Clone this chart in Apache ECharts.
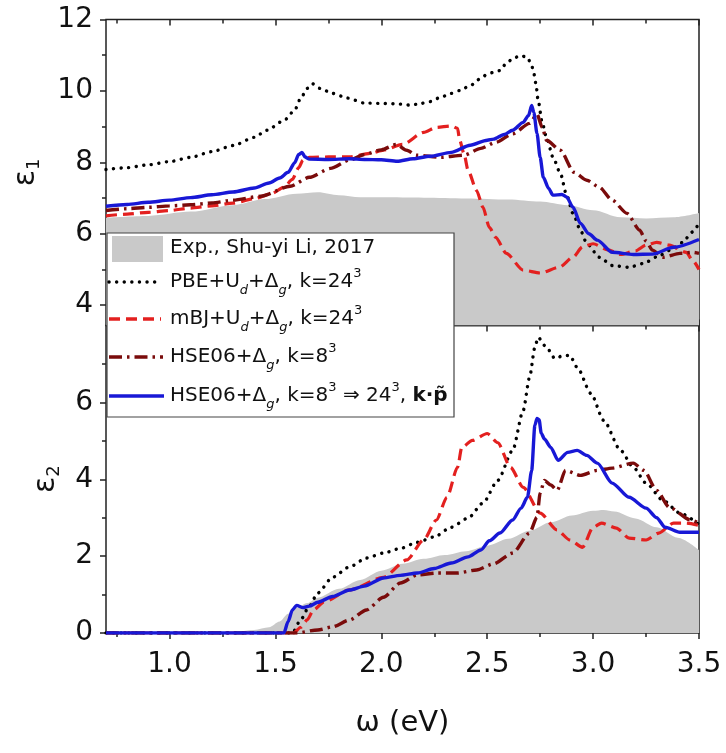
<!DOCTYPE html>
<html>
<head>
<meta charset="utf-8">
<script src="https://cdn.jsdelivr.net/npm/echarts@6/dist/echarts.min.js"></script>
<style>
  html, body { margin: 0; padding: 0; background: #fff; }
  #chart { width: 726px; height: 753px; }
</style>
</head>
<body>
<div id="chart"></div>
<script>
// Tick positions (photon energy in eV, dielectric function components)
const omegaTicks = [1.0, 1.5, 2.0, 2.5, 3.0, 3.5];
const omegaMinorTicks = [0.75, 1.25, 1.75, 2.25, 2.75, 3.25];
const eps1Ticks = [4, 6, 8, 10, 12];
const eps1MinorTicks = [5, 7, 9, 11];
const eps2Ticks = [0, 2, 4, 6];
const eps2MinorTicks = [1, 3, 5, 7];

// Real part ε1 : [ω (eV), ε1]
const expE1 = [[0.7,6.45],[0.9,6.5],[1.1,6.62],[1.3,6.8],[1.45,6.97],[1.6,7.12],[1.7,7.16],[1.8,7.08],[1.9,7.02],[2.0,7.02],[2.2,7.01],[2.4,6.99],[2.6,6.96],[2.75,6.9],[2.88,6.8],[3.0,6.66],[3.13,6.46],[3.25,6.43],[3.38,6.46],[3.5,6.58]];
const pbeE1 = [[0.7,7.8],[0.8,7.85],[0.9,7.93],[1.0,8.02],[1.1,8.14],[1.2,8.3],[1.3,8.47],[1.4,8.7],[1.46,8.9],[1.54,9.17],[1.59,9.45],[1.62,9.8],[1.65,10.07],[1.675,10.2],[1.71,10.07],[1.77,9.93],[1.84,9.8],[1.92,9.66],[2.0,9.65],[2.07,9.64],[2.14,9.6],[2.18,9.64],[2.23,9.7],[2.28,9.82],[2.33,9.93],[2.37,10.01],[2.42,10.15],[2.47,10.35],[2.5,10.47],[2.53,10.52],[2.56,10.57],[2.59,10.77],[2.62,10.9],[2.656,10.99],[2.69,10.94],[2.71,10.71],[2.72,10.49],[2.73,10.2],[2.74,9.75],[2.76,9.1],[2.78,8.7],[2.81,8.15],[2.845,7.7],[2.875,7.08],[2.905,6.57],[2.94,6.1],[2.97,5.73],[3.03,5.34],[3.09,5.11],[3.17,5.06],[3.24,5.17],[3.3,5.35],[3.37,5.55],[3.42,5.75],[3.47,6.05],[3.5,6.3]];
const mbjE1 = [[0.7,6.5],[0.8,6.55],[0.9,6.6],[1.0,6.65],[1.1,6.72],[1.2,6.78],[1.3,6.86],[1.4,6.98],[1.48,7.12],[1.54,7.3],[1.58,7.52],[1.61,7.85],[1.63,8.06],[1.66,8.14],[1.75,8.15],[1.85,8.15],[1.95,8.25],[2.01,8.34],[2.1,8.5],[2.2,8.84],[2.26,8.98],[2.33,9.02],[2.36,8.95],[2.37,8.62],[2.39,8.25],[2.41,7.77],[2.45,7.21],[2.48,6.74],[2.51,6.18],[2.54,5.9],[2.59,5.45],[2.67,4.98],[2.75,4.9],[2.84,5.06],[2.905,5.34],[2.95,5.63],[3.0,5.72],[3.07,5.55],[3.13,5.42],[3.2,5.52],[3.25,5.68],[3.3,5.76],[3.36,5.68],[3.44,5.48],[3.47,5.25],[3.5,5.0]];
const hse8E1 = [[0.7,6.65],[0.8,6.7],[0.9,6.74],[1.0,6.78],[1.1,6.81],[1.2,6.86],[1.3,6.94],[1.43,7.05],[1.57,7.33],[1.66,7.58],[1.76,7.83],[1.85,8.06],[1.92,8.22],[2.0,8.35],[2.07,8.5],[2.12,8.34],[2.165,8.2],[2.28,8.14],[2.39,8.2],[2.47,8.39],[2.54,8.56],[2.62,8.8],[2.7,9.09],[2.735,9.35],[2.76,8.98],[2.78,8.62],[2.845,8.34],[2.91,7.72],[2.97,7.5],[3.03,7.3],[3.09,6.94],[3.16,6.57],[3.22,6.1],[3.25,5.8],[3.28,5.54],[3.33,5.34],[3.41,5.45],[3.47,5.48],[3.5,5.45]];
const hseKpE1 = [[0.7,6.77],[0.8,6.82],[0.9,6.88],[1.0,6.94],[1.1,7.01],[1.2,7.09],[1.3,7.17],[1.4,7.28],[1.47,7.42],[1.52,7.56],[1.56,7.72],[1.59,7.98],[1.61,8.22],[1.625,8.28],[1.64,8.15],[1.66,8.09],[1.75,8.08],[1.85,8.1],[1.92,8.08],[2.0,8.07],[2.075,8.03],[2.15,8.1],[2.23,8.17],[2.33,8.28],[2.42,8.48],[2.5,8.62],[2.53,8.65],[2.58,8.78],[2.62,8.9],[2.67,9.12],[2.695,9.31],[2.71,9.59],[2.72,9.4],[2.735,8.81],[2.75,8.14],[2.765,7.58],[2.79,7.27],[2.81,7.08],[2.853,7.1],[2.875,7.03],[2.905,6.74],[2.94,6.29],[2.98,6.0],[3.02,5.82],[3.09,5.48],[3.19,5.42],[3.28,5.43],[3.38,5.62],[3.5,5.84]];

// Imaginary part ε2 : [ω (eV), ε2]
const expE2 = [[0.7,0],[1.2,0],[1.3,0.03],[1.4,0.08],[1.47,0.15],[1.52,0.3],[1.56,0.5],[1.6,0.65],[1.65,0.78],[1.7,0.92],[1.8,1.15],[1.9,1.38],[2.0,1.62],[2.1,1.8],[2.2,1.93],[2.3,2.03],[2.4,2.13],[2.5,2.27],[2.6,2.45],[2.7,2.66],[2.8,2.88],[2.9,3.06],[3.0,3.18],[3.05,3.2],[3.1,3.16],[3.2,2.98],[3.3,2.75],[3.4,2.48],[3.5,2.16]];
const pbeE2 = [[0.7,0],[1.58,0],[1.62,0.35],[1.66,0.7],[1.7,1.04],[1.77,1.45],[1.85,1.72],[1.93,1.95],[2.01,2.08],[2.09,2.2],[2.17,2.36],[2.25,2.5],[2.33,2.75],[2.41,2.99],[2.48,3.38],[2.55,3.97],[2.62,4.75],[2.67,5.79],[2.7,6.65],[2.725,7.43],[2.74,7.69],[2.78,7.43],[2.82,7.14],[2.86,7.22],[2.89,7.22],[2.925,6.91],[2.99,6.23],[3.05,5.53],[3.13,4.75],[3.19,4.31],[3.25,3.9],[3.33,3.45],[3.41,3.12],[3.5,2.82]];
const mbjE2 = [[0.7,0],[1.585,0],[1.62,0.15],[1.65,0.34],[1.68,0.6],[1.73,0.81],[1.85,1.12],[2.01,1.45],[2.12,1.9],[2.2,2.42],[2.26,2.94],[2.31,3.53],[2.36,4.31],[2.38,4.83],[2.43,5.01],[2.5,5.19],[2.55,4.95],[2.61,4.31],[2.67,3.79],[2.75,3.12],[2.83,2.68],[2.89,2.42],[2.95,2.23],[3.0,2.75],[3.04,2.86],[3.11,2.73],[3.17,2.47],[3.25,2.42],[3.31,2.6],[3.38,2.86],[3.44,2.86],[3.5,2.8]];
const hse8E2 = [[0.7,0],[1.6,0],[1.7,0.08],[1.77,0.16],[1.85,0.34],[1.93,0.6],[2.01,0.93],[2.09,1.3],[2.17,1.51],[2.26,1.56],[2.36,1.56],[2.45,1.64],[2.53,1.8],[2.62,2.08],[2.7,2.6],[2.735,3.01],[2.75,3.64],[2.77,3.97],[2.8,3.85],[2.83,3.71],[2.87,4.23],[2.94,4.1],[3.02,4.23],[3.09,4.29],[3.19,4.42],[3.24,4.23],[3.3,3.71],[3.36,3.27],[3.46,2.94],[3.5,2.86]];
const hseKpE2 = [[0.7,0],[1.54,0],[1.56,0.3],[1.58,0.6],[1.6,0.72],[1.63,0.66],[1.66,0.7],[1.7,0.8],[1.77,0.95],[1.85,1.12],[1.92,1.22],[2.01,1.43],[2.09,1.5],[2.17,1.56],[2.25,1.68],[2.33,1.82],[2.41,1.98],[2.47,2.16],[2.51,2.4],[2.56,2.6],[2.62,2.94],[2.66,3.25],[2.69,3.53],[2.71,4.23],[2.725,5.4],[2.735,5.58],[2.745,5.55],[2.755,5.2],[2.77,5.05],[2.8,4.83],[2.835,4.49],[2.88,4.7],[2.925,4.75],[2.97,4.62],[3.02,4.42],[3.09,3.9],[3.17,3.53],[3.25,3.25],[3.3,3.0],[3.34,2.75],[3.41,2.62],[3.5,2.62]];

const FONT = 'DejaVu Sans';
const C_EXP = '#c9c9c9', C_PBE = '#000000', C_MBJ = '#e3201f', C_HSE8 = '#7a0b0b', C_KP = '#1818d6';
const DOT = [0.1, 7.5], DASH = [11, 6], DASHDOT = [13, 5, 2.5, 5];

const GRID_L = 106, GRID_W = 593;
const grids = [
  { left: GRID_L, top: 19.5, width: GRID_W, height: 306, show: true, borderColor: '#222', borderWidth: 1.5, backgroundColor: 'transparent' },
  { left: GRID_L, top: 325.5, width: GRID_W, height: 307.5, show: true, borderColor: '#222', borderWidth: 1.5, backgroundColor: 'transparent' }
];

function xAx(gridIndex, position, ticks, len, inside, extra) {
  return Object.assign({
    type: 'value', gridIndex, position, min: 0.7, max: 3.5,
    axisLine: { show: false, onZero: false },
    axisTick: { show: true, inside, length: len, customValues: ticks, lineStyle: { color: '#222', width: 1.5 } },
    axisLabel: { show: false },
    splitLine: { show: false }
  }, extra || {});
}
function yAx(gridIndex, min, max, ticks, len, extra) {
  return Object.assign({
    type: 'value', gridIndex, position: 'left', min, max,
    axisLine: { show: false, onZero: false },
    axisTick: { show: true, inside: false, length: len, customValues: ticks, lineStyle: { color: '#222', width: 1.5 } },
    axisLabel: { show: false },
    splitLine: { show: false }
  }, extra || {});
}

const epsName = (n) => ({
  name: 'ε{s|' + n + '}', nameLocation: 'middle', nameRotate: 90,
  nameTextStyle: { fontFamily: FONT, fontSize: 30, color: '#111', rich: { s: { fontFamily: FONT, fontSize: 18, color: '#111', verticalAlign: 'bottom', lineHeight: 18 } }, lineHeight: 34 }
});
const yLabel = (vals, margin) => ({ show: true, customValues: vals, margin, fontFamily: FONT, fontSize: 28, color: '#111' });

const xAxes = [
  xAx(0, 'bottom', omegaTicks, 6, true),
  xAx(0, 'bottom', omegaMinorTicks, 4, true),
  xAx(0, 'top', omegaTicks, 6, true),
  xAx(0, 'top', omegaMinorTicks, 4, true),
  xAx(1, 'top', omegaTicks, 6, true),
  xAx(1, 'top', omegaMinorTicks, 4, true),
  xAx(1, 'bottom', omegaTicks, 6, false, {
    axisLabel: { show: true, customValues: omegaTicks, margin: 18, fontFamily: FONT, fontSize: 28, color: '#111', formatter: (v) => v.toFixed(1) },
    name: 'ω (eV)', nameLocation: 'middle', nameGap: 76,
    nameTextStyle: { fontFamily: FONT, fontSize: 29, color: '#111' }
  }),
  xAx(1, 'bottom', omegaMinorTicks, 4, false)
];
const yAxes = [
  yAx(0, 3.43, 12, eps1Ticks, 6, Object.assign({ axisLabel: yLabel(eps1Ticks, 13), nameGap: 63 }, epsName(1))),
  yAx(0, 3.43, 12, eps1MinorTicks, 4),
  yAx(1, 0, 8, eps2Ticks, 6, Object.assign({ axisLabel: yLabel(eps2Ticks, 13), nameGap: 43 }, epsName(2))),
  yAx(1, 0, 8, eps2MinorTicks, 4)
];

function curve(name, data, panel, color, width, dash, cap) {
  return {
    type: 'line', name, data,
    xAxisIndex: panel === 0 ? 0 : 6, yAxisIndex: panel === 0 ? 0 : 2,
    showSymbol: false, symbol: 'none', smooth: 0.25, smoothMonotone: 'x',
    lineStyle: { color, width, type: dash, cap: cap || 'butt' },
    emphasis: { disabled: true }, silent: true
  };
}
function area(name, data, panel) {
  return {
    type: 'line', name, data,
    xAxisIndex: panel === 0 ? 0 : 6, yAxisIndex: panel === 0 ? 0 : 2,
    showSymbol: false, symbol: 'none', smooth: 0.3, smoothMonotone: 'x',
    lineStyle: { width: 0 },
    areaStyle: { color: C_EXP, opacity: 1, origin: 'start' },
    emphasis: { disabled: true }, silent: true
  };
}

const series = [
  area('Exp.', expE1, 0),
  curve('PBE', pbeE1, 0, C_PBE, 3.4, DOT, 'round'),
  curve('mBJ', mbjE1, 0, C_MBJ, 3.2, DASH),
  curve('HSE06 k8', hse8E1, 0, C_HSE8, 3.4, DASHDOT),
  curve('HSE06 kp', hseKpE1, 0, C_KP, 3.4, 'solid'),
  area('Exp.', expE2, 1),
  curve('PBE', pbeE2, 1, C_PBE, 3.4, DOT, 'round'),
  curve('mBJ', mbjE2, 1, C_MBJ, 3.2, DASH),
  curve('HSE06 k8', hse8E2, 1, C_HSE8, 3.4, DASHDOT),
  curve('HSE06 kp', hseKpE2, 1, C_KP, 3.4, 'solid')
];

// Legend box drawn with graphic elements (rich text for sub/superscripts)
const richLegend = {
  sub: { fontFamily: FONT, fontSize: 13, fontStyle: 'italic', fill: '#111', verticalAlign: 'bottom', lineHeight: 13 },
  sup: { fontFamily: FONT, fontSize: 13, fill: '#111', verticalAlign: 'top', lineHeight: 13 },
  b: { fontFamily: FONT, fontSize: 20, fontWeight: 'bold', fill: '#111' }
};
const legendRows = [
  { y: 248, text: 'Exp., Shu-yi Li, 2017' },
  { y: 282, text: 'PBE+U{sub|d}+Δ{sub|g}, k=24{sup|3}' },
  { y: 319, text: 'mBJ+U{sub|d}+Δ{sub|g}, k=24{sup|3}' },
  { y: 357, text: 'HSE06+Δ{sub|g}, k=8{sup|3}' },
  { y: 396, text: 'HSE06+Δ{sub|g}, k=8{sup|3} ⇒ 24{sup|3}, {b|k·p̃}' }
];
const legendSamples = [
  { color: C_PBE, dash: DOT, cap: 'round', width: 3.4, x2: 158 },
  { color: C_MBJ, dash: DASH, cap: 'butt', width: 3.4, x2: 161 },
  { color: C_HSE8, dash: DASHDOT, cap: 'butt', width: 3.4, x2: 163 },
  { color: C_KP, dash: null, cap: 'butt', width: 3.6, x2: 164 }
];
const graphics = [
  { type: 'rect', z: 100, shape: { x: 107, y: 233, width: 347, height: 184 }, style: { fill: '#fff', stroke: '#444', lineWidth: 1.2 } },
  { type: 'rect', z: 101, shape: { x: 112, y: 236, width: 51, height: 26 }, style: { fill: C_EXP } }
];
legendSamples.forEach((s, i) => {
  graphics.push({
    type: 'line', z: 101,
    shape: { x1: 109, y1: legendRows[i + 1].y, x2: s.x2, y2: legendRows[i + 1].y },
    style: { stroke: s.color, lineWidth: s.width, lineDash: s.dash, lineCap: s.cap }
  });
});
legendRows.forEach((r) => {
  graphics.push({
    type: 'text', z: 101, x: 170, y: r.y,
    style: { text: r.text, fontFamily: FONT, fontSize: 20, fill: '#111', align: 'left', verticalAlign: 'middle', lineHeight: 30, rich: richLegend }
  });
});

const chart = echarts.init(document.getElementById('chart'), null, { renderer: 'canvas' });
chart.setOption({
  animation: false,
  backgroundColor: '#fff',
  grid: grids,
  xAxis: xAxes,
  yAxis: yAxes,
  series,
  graphic: graphics
});
</script>
</body>
</html>
